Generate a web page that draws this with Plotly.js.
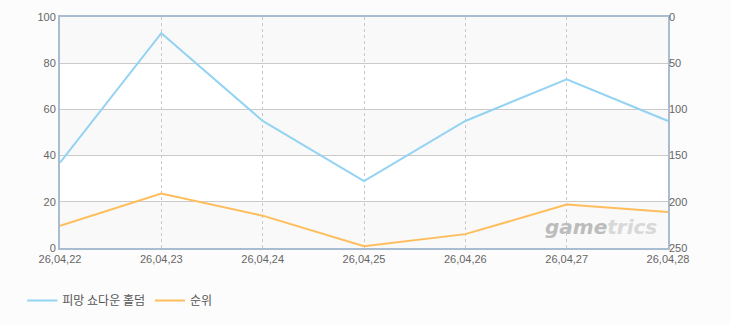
<!DOCTYPE html>
<html><head><meta charset="utf-8">
<script src="https://cdn.plot.ly/plotly-3.0.1.min.js"></script>
<style>html,body{margin:0;padding:0;background:#fcfcfc;}#c{width:730px;height:325px;}</style>
</head><body><div id="c"></div>
<script>
const dates = ["26,04,22","26,04,23","26,04,24","26,04,25","26,04,26","26,04,27","26,04,28"];
const shareValues = [37, 93, 55, 29, 55, 73, 55];
const rankValues = [226, 191, 215, 248, 235, 203, 211];
const leftTicks = [0, 20, 40, 60, 80, 100];
const rightTicks = [0, 50, 100, 150, 200, 250];
const seriesNames = ["피망 쇼다운 홀덤", "순위"];

const font = "Liberation Sans, Arial, sans-serif";
const shapes = [];
for (let i = 0; i < leftTicks.length - 1; i += 2) {
  shapes.push({type:'rect', xref:'paper', yref:'y', x0:0, x1:1, y0:leftTicks[i], y1:leftTicks[i+1],
    fillcolor:'#f9f9f9', line:{width:0}, layer:'below'});
}
const data = [
  {x: dates, y: shareValues, name: seriesNames[0], type:'scatter', mode:'lines',
   line:{color:'#94d3f2', width:2}, yaxis:'y'},
  {x: dates, y: rankValues, name: seriesNames[1], type:'scatter', mode:'lines',
   line:{color:'#ffbd5c', width:2}, yaxis:'y2'}
];
const layout = {
  width:730, height:325,
  margin:{l:60, r:62, t:17, b:77, autoexpand:false},
  paper_bgcolor:'#fcfcfc', plot_bgcolor:'#ffffff',
  font:{family:font, size:11, color:'#666'},
  shapes: shapes,
  showlegend:true,
  legend:{orientation:'h', x:-0.062, xanchor:'left', y:-0.165, yanchor:'top',
    font:{family:"Noto Sans CJK KR, sans-serif", size:12, color:'#555'}},
  xaxis:{type:'category', range:[0, dates.length-1], showgrid:true, gridcolor:'#c8c8c8', griddash:'3px,3px', gridwidth:1,
    showline:true, linecolor:'#a9bdd2', linewidth:2, mirror:true, ticks:'', ticklen:0,
    tickfont:{size:11, color:'#666'}, zeroline:false, fixedrange:true},
  yaxis:{range:[0,100], tickvals:leftTicks, showgrid:true, gridcolor:'#cacaca', gridwidth:1,
    showline:true, linecolor:'#a9bdd2', linewidth:2, mirror:true, ticks:'', zeroline:false,
    tickfont:{size:11, color:'#666'}},
  yaxis2:{overlaying:'y', side:'right', range:[250,0], tickvals:rightTicks, showgrid:false,
    showline:false, zeroline:false, ticks:'', tickfont:{size:11, color:'#666'}},
  annotations:[{xref:'paper', yref:'paper', x:0.985, y:0.03, xanchor:'right', yanchor:'bottom', showarrow:false,
    text:'<span style="color:#bcbcbc">game</span><span style="color:#d8d8d8">trics</span>',
    font:{family:"DejaVu Sans, sans-serif", size:20, weight:700, style:'italic'}}]
};
Plotly.newPlot('c', data, layout, {displayModeBar:false, staticPlot:true});
</script></body></html>
